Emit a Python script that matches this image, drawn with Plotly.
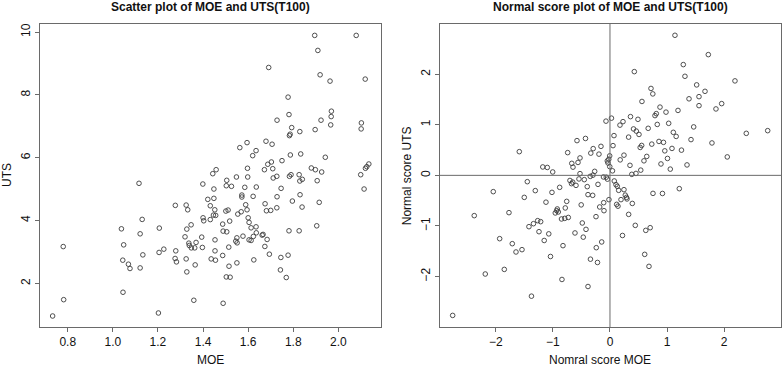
import plotly.graph_objects as go

# left panel: raw values
moe = [
    0.733, 0.780, 0.782, 1.038, 1.048, 1.044, 1.045, 1.069, 1.076, 1.116,
    1.130, 1.121, 1.133, 1.121, 1.206, 1.205, 1.226, 1.202,
    1.895, 1.909, 1.691, 1.919, 1.777, 1.781,
    2.079, 2.119, 1.963, 1.923, 1.969, 1.968, 1.966, 2.102, 2.101, 1.942,
    1.926, 2.135, 2.126, 2.120, 2.099, 2.114,
    1.728, 1.793, 1.829, 1.897, 1.783, 1.786, 1.563, 1.595, 1.679, 1.706,
    1.620, 1.635, 1.787, 1.833, 1.750, 1.687, 1.703, 1.597, 1.672, 1.709,
    1.880, 1.898, 1.458, 1.443, 1.598, 1.548, 1.727, 1.711, 1.783, 1.790,
    1.826, 1.829, 1.840, 1.906, 1.505, 1.399, 1.448, 1.503, 1.526, 1.585,
    1.636, 1.746, 1.421, 1.448, 1.572, 1.572, 1.622, 1.728, 1.830, 1.796,
    1.277, 1.325, 1.332, 1.432, 1.452, 1.589, 1.595, 1.675, 1.681, 1.700,
    1.727, 1.839, 1.501, 1.511, 1.554, 1.569, 1.915,
    1.446, 1.456, 1.432, 1.400, 1.403, 1.518, 1.487, 1.347, 1.328, 1.600,
    1.604, 1.613, 1.635, 1.489, 1.505, 1.320, 1.394, 1.453, 1.550, 1.551,
    1.545, 1.577, 1.604, 1.613, 1.623, 1.636, 1.662, 1.666, 1.684, 1.674,
    1.781, 1.826, 1.904, 1.337, 1.339, 1.348, 1.363, 1.369, 1.397, 1.279,
    1.453, 1.514, 1.694, 1.745, 1.777, 1.276, 1.282, 1.325, 1.436, 1.455,
    1.487, 1.625, 1.550, 1.365, 1.515, 1.743, 1.328, 1.503, 1.520, 1.769,
    1.359, 1.489,
]
uts = [
    0.96, 3.17, 1.48, 3.735, 3.225, 2.737, 1.716, 2.609, 2.472, 5.184,
    4.035, 3.576, 2.906, 2.491, 3.758, 2.983, 3.088, 1.056,
    9.892, 9.414, 8.871, 8.638, 7.927, 7.372,
    9.892, 8.501, 8.437, 7.193, 7.48, 7.308, 7.043, 7.107, 6.916, 6.013,
    5.544, 5.799, 5.713, 5.662, 5.458, 5.002,
    7.193, 6.957, 6.83, 6.893, 6.702, 6.747, 6.319, 6.479, 6.523, 6.428,
    6.064, 6.224, 6.086, 6.118, 5.905, 5.79, 5.863, 5.662, 5.617, 5.649,
    5.672, 5.617, 5.617, 5.49, 5.385, 5.385, 5.407, 5.353, 5.407, 5.458,
    5.458, 5.257, 5.311, 5.267, 5.279, 5.161, 5.002, 5.107, 5.088, 5.056,
    5.066, 5.024, 4.673, 4.705, 4.81, 4.747, 4.769, 4.756, 4.82, 4.619,
    4.482, 4.491, 4.341, 4.469, 4.341, 4.501, 4.341, 4.533, 4.31, 4.322,
    4.405, 4.428, 4.3, 4.332, 4.204, 4.278, 4.578,
    4.172, 4.163, 4.029, 4.086, 3.991, 3.981, 3.885, 3.863, 3.726, 4.086,
    3.94, 3.767, 3.799, 3.662, 3.64, 3.48, 3.471, 3.384, 3.448, 3.289,
    3.343, 3.502, 3.384, 3.365, 3.493, 3.608, 3.534, 3.557, 3.397, 3.174,
    3.672, 3.672, 3.831, 3.279, 3.206, 3.129, 3.129, 3.302, 3.142, 3.034,
    3.034, 3.152, 2.928, 2.823, 2.896, 2.791, 2.683, 2.778, 2.778, 2.737,
    2.887, 2.746, 2.651, 2.587, 2.545, 2.427, 2.364, 2.204, 2.195, 2.185,
    1.461, 1.365,
]

# right panel: normal scores
ns_moe = [
    -1.588, -1.177, -1.098, -0.741, -0.669, -0.648, -0.578, -0.560, -0.525, -0.429,
    -0.336, -0.294, -0.193, -0.158, -0.070, 0.026, 0.070, 0.053, -0.005, -0.021,
    -0.047, -0.035, -0.004, 0.044, 0.228, 0.175, 0.179, 0.245, 0.326, 0.359,
    0.350,
    0.426, 1.138, 1.722, 1.284, 1.313, 2.189, 1.518, 0.718, 0.750, 1.664,
    1.559, 1.384, 0.560, 1.956, 1.856, 1.559, 0.876, 1.191, 0.981, 0.811,
    0.788, 0.490, 1.028, 0.828, 0.669, 0.412, 0.461, 0.508, 1.466, 1.109,
    1.159, 1.419, 0.937, 0.858, 0.732, 0.555, 0.529, 1.086, 1.252, 0.960,
    0.644, 0.595, 1.007, 0.893, 1.349, 1.786, 2.387, 2.762, 2.054, 1.056,
    0.455, 0.539, 0.382,
    -1.003, -0.525, -0.345, -0.298, -0.268, -0.114, -0.065, -0.044, -1.448, -0.701,
    -0.653, -0.674, -0.595, -0.543, -0.450, -0.398, -0.210, 0.075, 0.105, 0.128,
    0.152, 0.245, -1.308, -1.016, -0.881, -1.501, -2.044, -0.385, -0.303, 0.268,
    0.289, 0.298, 0.193, -0.018, 0.753, 0.919, 1.214, -1.121, -0.758, -0.504,
    -0.110, -0.180, -0.105, 0.391, 0.117, 0.140, -0.923, -0.933, -0.958, -0.905,
    -0.783, -1.769, -2.377, -0.849, -0.792, -0.730, -0.245, 0.327, -1.419, -1.340,
    -1.266, -1.214, -0.485, 0.443, -0.420, 0.627, 0.704, -1.243, -1.072, -0.613,
    -0.468, -1.152, 0.219, -0.145, -0.823, -0.240, 0.608, -1.042, -0.342, -0.219,
    0.683, -0.841, -0.385, -1.375, -1.932, -1.711, -1.646, -1.541, -1.851, -2.184,
    -2.755,
]
ns_uts = [
    0.468, 0.166, 0.156, 0.449, 0.237, 0.162, 0.686, 0.255, 0.344, 0.729,
    0.439, 0.528, 0.419, 0.573, 1.071, 1.130, 0.785, 0.587, 0.385, 0.318,
    0.285, 0.245, 0.172, 0.089, 1.061, 0.992, 0.306, 0.399, 0.755, 1.160,
    0.198,
    2.049, 2.767, 2.385, 2.188, 1.957, 1.866, 1.787, 1.717, 1.609, 1.660,
    1.555, 1.512, 1.460, 1.417, 1.312, 1.377, 1.348, 1.283, 1.249, 1.219,
    1.180, 1.107, 1.028, 1.006, 0.929, 0.917, 0.874, 0.808, 0.957, 0.850,
    0.769, 0.706, 0.652, 0.670, 0.617, 0.591, 0.551, 0.532, 0.498, 0.484,
    0.374, 0.287, 0.334, 0.225, 0.206, 0.640, 0.830, 0.883, 0.364, 0.123,
    0.038, 0.103, 0.020,
    0.067, 0.034, -0.020, 0.004, 0.079, -0.032, -0.036, -0.075, -0.125, -0.101,
    -0.134, -0.164, -0.198, -0.071, -0.085, -0.223, -0.178, -0.111, -0.184, -0.217,
    -0.296, -0.283, -0.302, -0.336, -0.237, -0.435, -0.322, -0.381, -0.395, -0.391,
    -0.435, -0.466, -0.480, -0.480, -0.356, -0.358, -0.263, -0.530, -0.514, -0.583,
    -0.540, -0.625, -0.698, -0.555, -0.573, -0.609, -0.664, -0.698, -0.743, -0.723,
    -0.644, -0.737, -0.796, -0.862, -0.850, -0.832, -0.816, -0.771, -1.014, -0.955,
    -0.895, -0.915, -0.941, -0.988, -1.067, -1.087, -1.034, -1.113, -1.156, -1.138,
    -1.221, -1.287, -1.188, -1.316, -1.389, -1.429, -1.561, -1.603, -1.656, -1.721,
    -1.798, -2.057, -2.196, -2.387, -1.251, -1.350, -1.514, -1.468, -1.858, -1.949,
    -2.767,
]

moe_ticks = [0.8, 1.0, 1.2, 1.4, 1.6, 1.8, 2.0]
uts_ticks = [2, 4, 6, 8, 10]
ns_ticks = [-2, -1, 0, 1, 2]

FONT = "Liberation Sans, Arial, sans-serif"
BOX = "#6a6a6a"
PT = "#3c3c3c"

marker = dict(symbol="circle-open", size=4.6, color=PT, line=dict(width=0.9, color=PT))

fig = go.Figure()
fig.add_trace(go.Scatter(x=moe, y=uts, mode="markers", marker=marker,
                         xaxis="x", yaxis="y", showlegend=False))
fig.add_trace(go.Scatter(x=ns_moe, y=ns_uts, mode="markers", marker=marker,
                         xaxis="x2", yaxis="y2", showlegend=False))

axis_common = dict(showgrid=False, zeroline=False, showline=True, mirror=True,
                   linecolor=BOX, linewidth=1, ticks="outside", ticklen=4,
                   tickcolor=BOX, tickwidth=1,
                   tickfont=dict(family=FONT, size=12, color="#111"))

fig.update_layout(
    width=782, height=366,
    margin=dict(l=40, r=1, t=24, b=39),
    paper_bgcolor="white", plot_bgcolor="white",
    font=dict(family=FONT, size=12, color="#111"),
    xaxis=dict(domain=[0, 0.4602], range=[0.677, 2.189], tickvals=moe_ticks,
               ticktext=[f"{v:.1f}" for v in moe_ticks], anchor="y", **axis_common),
    yaxis=dict(domain=[0, 1], range=[0.61, 10.255], tickvals=uts_ticks,
               tickangle=-90, anchor="x", **axis_common),
    xaxis2=dict(domain=[0.5398, 1], range=[-2.977, 2.995], tickvals=ns_ticks,
                anchor="y2", **axis_common),
    yaxis2=dict(domain=[0, 1], range=[-2.996, 2.99], tickvals=ns_ticks,
                tickangle=-90, anchor="x2", **axis_common),
)

# reference lines through the origin of the normal score plot
fig.add_shape(type="line", xref="x2", yref="y2 domain", x0=0, x1=0, y0=0, y1=1,
              line=dict(color=BOX, width=1))
fig.add_shape(type="line", xref="x2 domain", yref="y2", x0=0, x1=1, y0=0, y1=0,
              line=dict(color=BOX, width=1))

texts = [
    ("Scatter plot of MOE and UTS(T100)", 0.2301, 1.056, 0, True),
    ("Normal score plot of MOE and UTS(T100)", 0.7699, 1.056, 0, True),
    ("MOE", 0.2301, -0.109, 0, False),
    ("Nomral score MOE", 0.7557, -0.109, 0, False),
    ("UTS", -0.0452, 0.5, -90, False),
    ("Normal score UTS", 0.4949, 0.5, -90, False),
]
for txt, x, y, ang, bold in texts:
    fig.add_annotation(text=f"<b>{txt}</b>" if bold else txt, x=x, y=y,
                       xref="paper", yref="paper", xanchor="center", yanchor="middle",
                       textangle=ang, showarrow=False,
                       font=dict(family=FONT, size=12, color="#111"))

# drop the browser's default 8px body margin so the figure fills the window
fig.write_html("out.html", config={"displayModeBar": False},
               post_script="document.body.style.margin='0';document.body.style.overflow='hidden';")
